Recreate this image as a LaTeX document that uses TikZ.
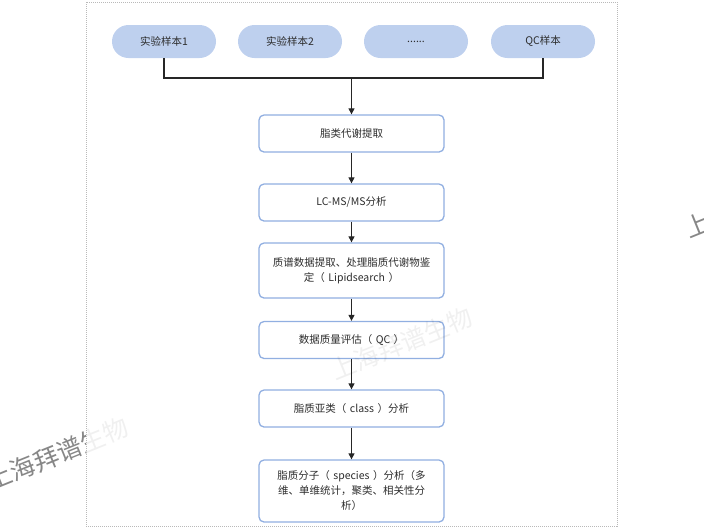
\documentclass[tikz,border=0pt]{standalone}
\usepackage{fontspec}
\setmainfont{Noto Sans CJK SC}
\usetikzlibrary{arrows.meta}
\definecolor{pillfill}{RGB}{190,208,238}
\definecolor{boxline}{RGB}{145,175,225}
\definecolor{txt}{RGB}{45,45,45}
\definecolor{wm}{RGB}{135,135,135}
\definecolor{wmlight}{RGB}{240,240,240}
\tikzset{
  pill/.style={rectangle, rounded corners=16.5pt, fill=pillfill, minimum width=104pt, minimum height=33pt, inner sep=0pt, font=\fontsize{10.5}{13}\selectfont, text=txt},
  stepbox/.style={rectangle, rounded corners=5pt, draw=boxline, line width=1.3pt, fill=white, minimum width=185pt, text width=172pt, align=center, inner sep=0pt, font=\fontsize{10.5}{15}\selectfont, text=txt},
  conn/.style={line width=1.1pt, draw=black!85},
  arr/.style={conn, -{Triangle[length=6pt,width=6pt]}},
  wmtext/.style={font=\fontsize{25}{25}\selectfont, rotate=22, anchor=west, inner sep=0pt}
}
\begin{document}
\begin{tikzpicture}[x=1pt,y=-1pt]
\useasboundingbox (0,0) rectangle (704,528);
% watermarks outside frame
\begin{scope}
  \clip (0,0) rectangle (86,528);
  \node[wmtext, text=wm] (wma) at (-12,482) {上海拜谱生物};
\end{scope}
\begin{scope}
  \clip (86,0) rectangle (618,528);
  \node[wmtext, text=wmlight] (wmb) at (-12,482) {上海拜谱生物};
\end{scope}
\begin{scope}
  \clip (618,0) rectangle (704,528);
  \node[wmtext, text=wm] (wmc) at (686,230) {上海拜谱生物};
\end{scope}
% frame
\draw[gray!55, line width=0.8pt, dash pattern=on 1pt off 1pt] (86,2) rectangle (617,526);
% pills
\node[pill] (p1) at (164,41.5) {实验样本1};
\node[pill] (p2) at (290,41.5) {实验样本2};
\node[pill] (p3) at (416,41.5) {......};
\node[pill] (p4) at (543,41.5) {QC样本};
% boxes
\node[stepbox, minimum height=37pt] (b1) at (351.5,133.5) {脂类代谢提取};
\node[stepbox, minimum height=37pt] (b2) at (351.5,202.5) {LC-MS/MS分析};
\node[stepbox, minimum height=55pt] (b3) at (351.5,270.5) {质谱数据提取、处理脂质代谢物鉴\\定（ Lipidsearch ）};
\node[stepbox, minimum height=37pt] (b4) at (351.5,340) {数据质量评估（ QC ）};
\node[stepbox, minimum height=37pt] (b5) at (351.5,408.5) {脂质亚类（ class ）分析};
\node[stepbox, minimum height=62pt] (b6) at (351.5,491) {脂质分子（ species ）分析（多\\维、单维统计，聚类、相关性分\\析）};
% middle watermark (very light)
\node[wmtext, text=black, opacity=0.06] (wmd) at (332,372) {上海拜谱生物};
% connectors
\coordinate (j) at (351.5,78);
\draw[conn] (p1.south) |- (j) -| (p4.south);
\draw[arr] (j) -- (b1.north);
\draw[arr] (b1.south) -- (b2.north);
\draw[arr] (b2.south) -- (b3.north);
\draw[arr] (b3.south) -- (b4.north);
\draw[arr] (b4.south) -- (b5.north);
\draw[arr] (b5.south) -- (b6.north);
\end{tikzpicture}
\end{document}
